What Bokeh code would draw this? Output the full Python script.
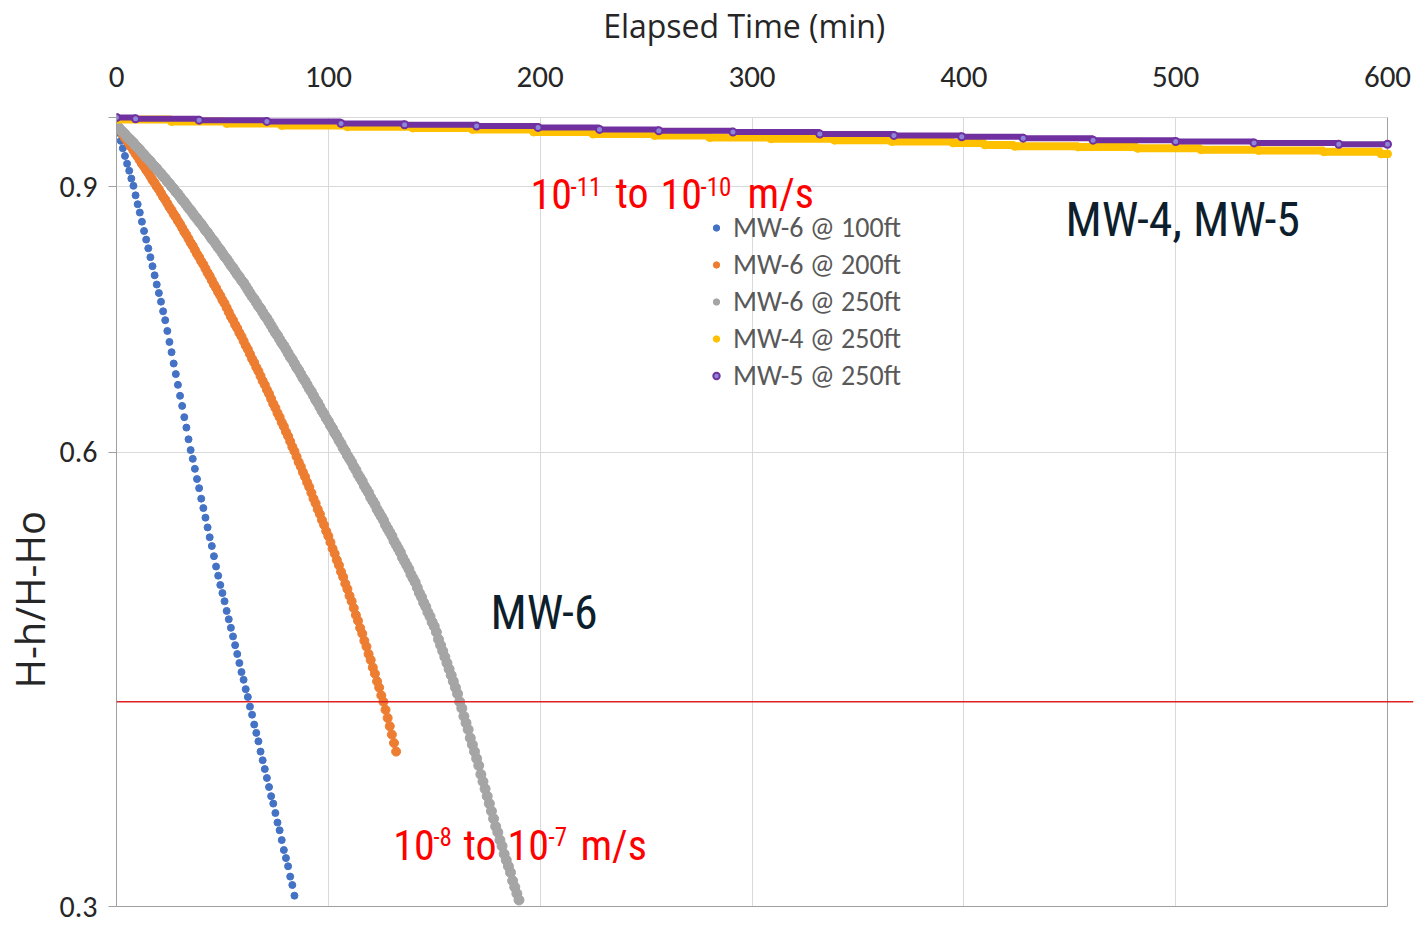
from bokeh.plotting import figure
from bokeh.models import (FixedTicker, LinearAxis, Grid, Span, Label, Legend, LegendItem,
                          CustomJSTickFormatter, Range1d, Title)
from bokeh.embed import file_html
from bokeh.resources import INLINE

# ---------------- data ----------------
x_ticks = [0, 100, 200, 300, 400, 500, 600]
y_ticks = [0.3, 0.6, 0.9, 1.0]
k_threshold = 0.41

series_names = ["MW-6 @ 100ft", "MW-6 @ 200ft", "MW-6 @ 250ft", "MW-4 @ 250ft", "MW-5 @ 250ft"]

mw6_100_time = list(range(0, 85))
mw6_100_value = [
    0.988, 0.977, 0.965, 0.954, 0.943, 0.932, 0.922, 0.911, 0.901, 0.888,
    0.876, 0.865, 0.853, 0.841, 0.830, 0.819, 0.808, 0.797, 0.786, 0.775,
    0.765, 0.755, 0.744, 0.734, 0.722, 0.710, 0.699, 0.687, 0.676, 0.665,
    0.654, 0.644, 0.633, 0.623, 0.612, 0.602, 0.594, 0.585, 0.576, 0.568,
    0.559, 0.551, 0.543, 0.535, 0.527, 0.520, 0.512, 0.504, 0.497, 0.490,
    0.484, 0.478, 0.471, 0.465, 0.459, 0.453, 0.447, 0.441, 0.435, 0.429,
    0.424, 0.418, 0.413, 0.407, 0.402, 0.396, 0.391, 0.386, 0.380, 0.375,
    0.370, 0.365, 0.360, 0.355, 0.351, 0.346, 0.341, 0.337, 0.332, 0.327,
    0.323, 0.319, 0.314, 0.310, 0.305]

mw6_200_time = list(range(0, 133))
mw6_200_value = [
    0.988, 0.983, 0.979, 0.974, 0.969, 0.965, 0.960, 0.956, 0.951, 0.946,
    0.942, 0.937, 0.932, 0.928, 0.923, 0.919, 0.914, 0.909, 0.905, 0.900,
    0.896, 0.891, 0.886, 0.882, 0.877, 0.872, 0.868, 0.863, 0.859, 0.854,
    0.850, 0.845, 0.840, 0.836, 0.831, 0.826, 0.822, 0.817, 0.812, 0.808,
    0.803, 0.799, 0.794, 0.789, 0.785, 0.780, 0.775, 0.771, 0.766, 0.762,
    0.757, 0.753, 0.748, 0.743, 0.738, 0.734, 0.729, 0.725, 0.720, 0.716,
    0.711, 0.706, 0.702, 0.697, 0.692, 0.688, 0.683, 0.679, 0.674, 0.669,
    0.665, 0.660, 0.656, 0.651, 0.646, 0.642, 0.637, 0.633, 0.628, 0.624,
    0.619, 0.615, 0.610, 0.605, 0.601, 0.596, 0.591, 0.587, 0.582, 0.578,
    0.573, 0.569, 0.564, 0.559, 0.555, 0.550, 0.546, 0.541, 0.537, 0.532,
    0.528, 0.523, 0.518, 0.514, 0.509, 0.505, 0.500, 0.496, 0.491, 0.487,
    0.482, 0.478, 0.473, 0.468, 0.464, 0.459, 0.455, 0.450, 0.446, 0.441,
    0.437, 0.432, 0.428, 0.423, 0.419, 0.414, 0.410, 0.405, 0.400, 0.395,
    0.390, 0.385, 0.380]

mw6_250_time = list(range(0, 191))
mw6_250_value = [
    0.988, 0.985, 0.981, 0.978, 0.975, 0.971, 0.968, 0.965, 0.962, 0.958,
    0.955, 0.952, 0.948, 0.945, 0.941, 0.938, 0.935, 0.931, 0.928, 0.925,
    0.921, 0.918, 0.914, 0.911, 0.907, 0.904, 0.900, 0.897, 0.893, 0.890,
    0.886, 0.882, 0.879, 0.875, 0.871, 0.868, 0.864, 0.860, 0.857, 0.853,
    0.850, 0.846, 0.842, 0.839, 0.835, 0.831, 0.828, 0.824, 0.820, 0.817,
    0.813, 0.809, 0.806, 0.802, 0.798, 0.795, 0.791, 0.787, 0.784, 0.780,
    0.777, 0.773, 0.769, 0.765, 0.761, 0.758, 0.754, 0.750, 0.747, 0.743,
    0.739, 0.736, 0.732, 0.728, 0.724, 0.720, 0.717, 0.713, 0.709, 0.706,
    0.702, 0.698, 0.694, 0.691, 0.687, 0.683, 0.680, 0.676, 0.672, 0.669,
    0.665, 0.661, 0.658, 0.654, 0.650, 0.647, 0.643, 0.639, 0.636, 0.632,
    0.629, 0.625, 0.622, 0.618, 0.615, 0.611, 0.608, 0.604, 0.601, 0.597,
    0.594, 0.591, 0.587, 0.584, 0.580, 0.577, 0.574, 0.570, 0.567, 0.564,
    0.560, 0.557, 0.554, 0.550, 0.547, 0.544, 0.541, 0.537, 0.534, 0.531,
    0.528, 0.524, 0.521, 0.518, 0.515, 0.511, 0.508, 0.505, 0.502, 0.498,
    0.495, 0.492, 0.488, 0.484, 0.481, 0.477, 0.474, 0.470, 0.467, 0.463,
    0.460, 0.456, 0.451, 0.447, 0.443, 0.439, 0.435, 0.431, 0.427, 0.423,
    0.419, 0.415, 0.410, 0.406, 0.401, 0.397, 0.393, 0.388, 0.384, 0.380,
    0.376, 0.372, 0.367, 0.363, 0.359, 0.355, 0.351, 0.347, 0.343, 0.339,
    0.336, 0.332, 0.329, 0.325, 0.322, 0.319, 0.316, 0.312, 0.309, 0.306,
    0.303]

# MW-4 / MW-5: stepwise (quantised) readings, given at the times where the level changes
mw4_time = [0, 26, 52, 78, 109, 140, 168, 197, 225, 254, 280, 309, 339, 366, 395, 410,
            424, 454, 482, 512, 539, 570, 597, 600]
mw4_value = [0.997, 0.994, 0.991, 0.988, 0.986, 0.984, 0.982, 0.978, 0.975, 0.973, 0.970,
             0.968, 0.966, 0.964, 0.962, 0.959, 0.957, 0.956, 0.954, 0.952, 0.951, 0.949,
             0.946, 0.946]

mw5_time = [0, 9, 39, 71, 106, 136, 170, 199, 228, 256, 291, 332, 367, 399, 428, 461, 500,
            537, 577, 600]
mw5_value = [1.000, 0.998, 0.996, 0.994, 0.991, 0.989, 0.987, 0.985, 0.982, 0.980, 0.978,
             0.975, 0.973, 0.971, 0.969, 0.966, 0.964, 0.962, 0.960, 0.960]

# ---------------- styling ----------------
AX_FONT = "Carlito"
TITLE_FONT = "Open Sans"
ANN_FONT = "Roboto Condensed"
TXT = "#262626"
AXLINE = "#A0A0A0"
GRIDC = "#D9D9D9"
NAVY = "#0D1E2C"
RED = "#FF0000"

p = figure(width=1417, height=925, output_backend="svg", toolbar_location=None,
           x_range=Range1d(0, 612.27), y_range=Range1d(0.3, 1.01228),
           y_axis_type="log", x_axis_location="above",
           min_border_left=116, min_border_right=4, min_border_top=109, min_border_bottom=19)
p.outline_line_color = None
p.background_fill_color = "white"
p.border_fill_color = "white"

# top x axis (title padded with no-break spaces so it sits left of centre, as in the reference)
xa = p.xaxis[0]
xa.ticker = FixedTicker(ticks=x_ticks)
xa.bounds = (0, 600)
xa.axis_line_color = None
xa.major_tick_line_color = None
xa.minor_tick_line_color = None
xa.major_label_text_font = AX_FONT
xa.major_label_text_font_size = "31px"
xa.major_label_text_color = TXT
xa.major_label_standoff = 17
xa.axis_label = "Elapsed Time (min)" + "\u00a0" * 5
xa.axis_label_text_font = TITLE_FONT
xa.axis_label_text_font_size = "32px"
xa.axis_label_text_font_style = "normal"
xa.axis_label_text_color = TXT
xa.axis_label_standoff = 17

# left y axis (log)
ya = p.yaxis[0]
ya.ticker = FixedTicker(ticks=y_ticks)
ya.formatter = CustomJSTickFormatter(code="return tick > 0.95 ? '' : tick.toFixed(1);")
ya.bounds = (0.3, 1.0)
ya.axis_line_color = AXLINE
ya.major_tick_line_color = AXLINE
ya.minor_tick_line_color = None
ya.major_tick_out = 8
ya.major_tick_in = 0
ya.major_label_text_font = AX_FONT
ya.major_label_text_font_size = "30px"
ya.major_label_text_color = TXT
ya.major_label_standoff = 11

y_title = Title(text="H-h/H-Ho", align="left", offset=218, standoff=-1,
                text_font=TITLE_FONT, text_font_size="40px", text_font_style="normal",
                text_color=TXT)
p.add_layout(y_title, "left")

# bottom border as a label-less axis
bot = LinearAxis(ticker=FixedTicker(ticks=[]), bounds=(0, 600), axis_line_color=AXLINE,
                 major_tick_line_color=None, minor_tick_line_color=None,
                 major_label_text_font_size="0px")
p.add_layout(bot, "below")

# grids
p.xgrid.ticker = FixedTicker(ticks=x_ticks[1:-1])
p.xgrid.grid_line_color = GRIDC
p.ygrid.ticker = FixedTicker(ticks=y_ticks[1:])
p.ygrid.grid_line_color = GRIDC
has_cross = "cross_bounds" in Grid.properties()
if has_cross:
    p.xgrid.cross_bounds = (0.3, 1.0)
    p.ygrid.cross_bounds = (0, 600)
rb = Grid(dimension=0, ticker=FixedTicker(ticks=[600]), grid_line_color=AXLINE)
if has_cross:
    rb.cross_bounds = (0.3, 1.0)
p.add_layout(rb)

# threshold line
p.add_layout(Span(location=k_threshold, dimension="width", line_color="#E02020", line_width=1.5))

# data
r_blue = p.scatter(mw6_100_time, mw6_100_value, size=7, color="#4472C4")
r_orange = p.scatter(mw6_200_time, mw6_200_value, size=9, color="#ED7D31")
r_gray = p.scatter(mw6_250_time, mw6_250_value, size=10, color="#A5A5A5")
p.step(mw4_time, mw4_value, mode="after", line_width=8, line_color="#FFC000")
r_mw4 = p.scatter(mw4_time, mw4_value, size=8, color="#FFC000")
p.step(mw5_time, mw5_value, mode="after", line_width=6, line_color="#7030A0")
r_mw5 = p.scatter(mw5_time, mw5_value, size=7, fill_color="#8C86D8", line_color="#7030A0",
                  line_width=2)

legend = Legend(items=[LegendItem(label=n, renderers=[r])
                       for n, r in zip(series_names, [r_blue, r_orange, r_gray, r_mw4, r_mw5])],
                location=(592, 512), orientation="vertical", padding=0, margin=0, spacing=0,
                glyph_width=16, glyph_height=37, label_standoff=9,
                label_text_font=AX_FONT, label_text_font_size="28px",
                label_text_color="#595959", background_fill_alpha=0, border_line_color=None)
p.add_layout(legend)

# annotations
def add_text(txt, x, y, size, color):
    p.add_layout(Label(x=x, y=y, text=txt, text_font=ANN_FONT, text_font_size=size,
                       text_color=color, text_align="left", text_baseline="middle"))

add_text("MW-4, MW-5", 448.0, 0.8556, "48px", NAVY)
add_text("MW-6", 176.6, 0.4695, "48px", NAVY)

for txt, x, y, big in [("10", 195.4, 0.8902, True), ("-11", 214.3, 0.9002, False),
                       ("to", 235.6, 0.8902, True), ("10", 256.8, 0.8902, True),
                       ("-10", 275.7, 0.9002, False), ("m/s", 297.9, 0.8902, True),
                       ("10", 130.6, 0.3293, True), ("-8", 149.6, 0.3339, False),
                       ("to", 163.8, 0.3293, True), ("10", 184.6, 0.3293, True),
                       ("-7", 203.9, 0.3339, False), ("m/s", 219.0, 0.3293, True)]:
    add_text(txt, x, y, "42px" if big else "25px", RED)

open("out.html", "w").write(file_html(p, INLINE))
